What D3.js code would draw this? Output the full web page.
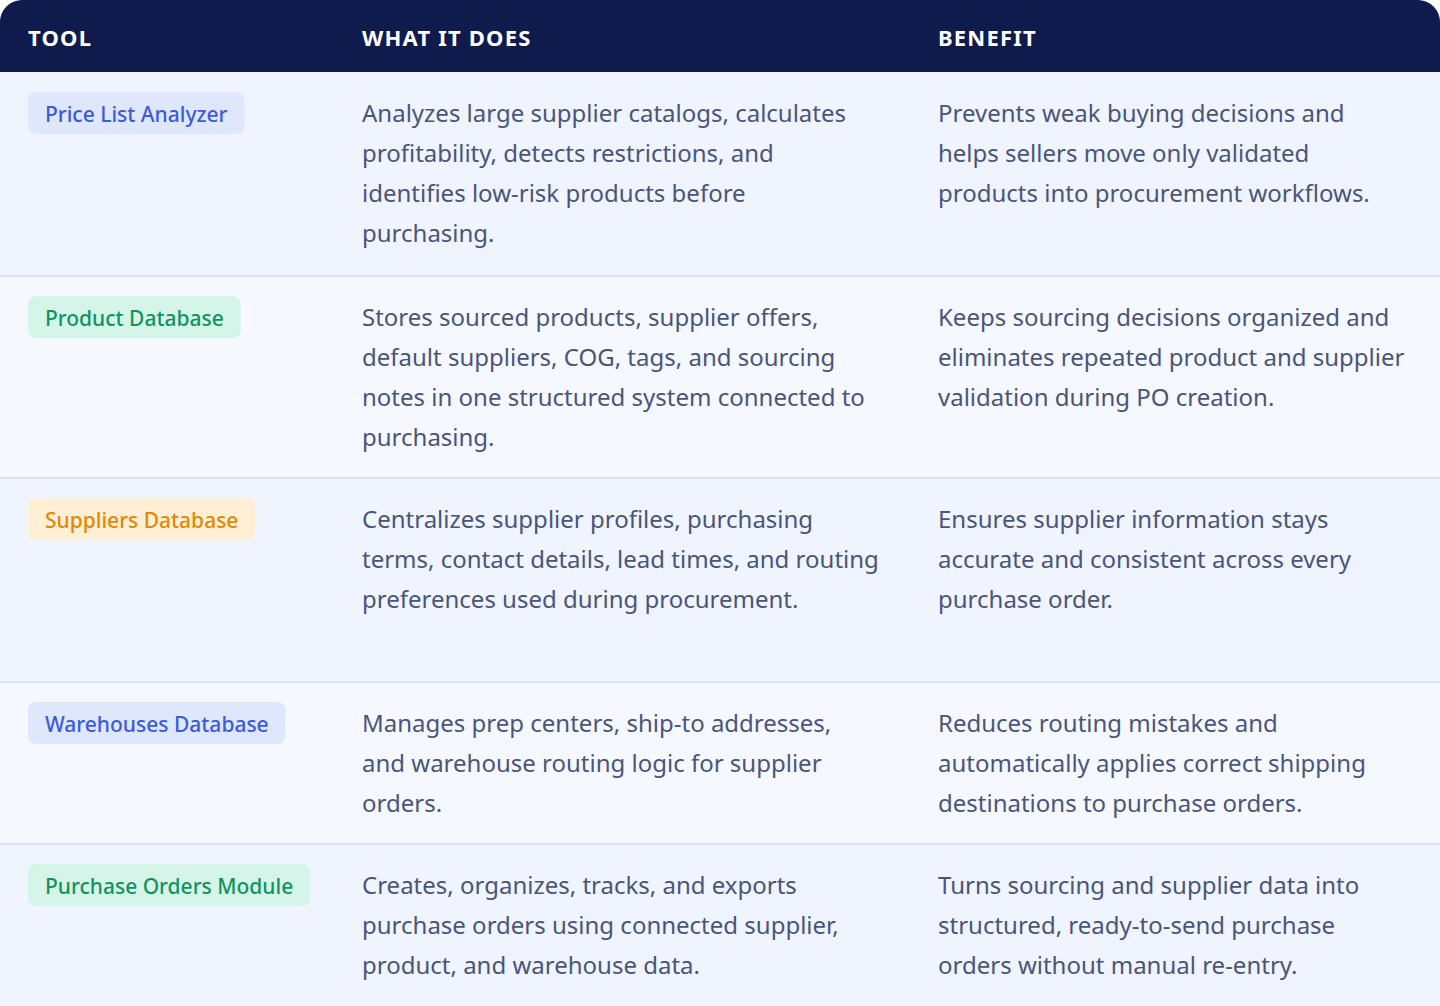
<!DOCTYPE html><html><head><meta charset="utf-8">
<script src="https://cdn.jsdelivr.net/npm/d3@7"></script>
<style>body{margin:0;background:#fff}svg{display:block}</style></head><body>
<svg id="c" width="1440" height="1006"></svg>
<script>
const headers=["TOOL","WHAT IT DOES","BENEFIT"];
const tools=["Price List Analyzer","Product Database","Suppliers Database","Warehouses Database","Purchase Orders Module"];
const pillFill=["#dfe7fd","#d6f5e9","#ffefd5","#dfe7fd","#d6f5e9"];
const pillText=["#3b5bdb","#0f9460","#e08a00","#3b5bdb","#0f9460"];
const whatLines=[
["Analyzes large supplier catalogs, calculates","profitability, detects restrictions, and","identifies low-risk products before","purchasing."],
["Stores sourced products, supplier offers,","default suppliers, COG, tags, and sourcing","notes in one structured system connected to","purchasing."],
["Centralizes supplier profiles, purchasing","terms, contact details, lead times, and routing","preferences used during procurement."],
["Manages prep centers, ship-to addresses,","and warehouse routing logic for supplier","orders."],
["Creates, organizes, tracks, and exports","purchase orders using connected supplier,","product, and warehouse data."]];
const benefitLines=[
["Prevents weak buying decisions and","helps sellers move only validated","products into procurement workflows."],
["Keeps sourcing decisions organized and","eliminates repeated product and supplier","validation during PO creation."],
["Ensures supplier information stays","accurate and consistent across every","purchase order."],
["Reduces routing mistakes and","automatically applies correct shipping","destinations to purchase orders."],
["Turns sourcing and supplier data into","structured, ready-to-send purchase","orders without manual re-entry."]];
const rowBounds=[72,276,478,682,844,1006];
const svg=d3.select("#c"),F="'Noto Sans', 'Open Sans', sans-serif";
const colX=[28,362,938];
// card clip
svg.append("clipPath").attr("id","cl").append("rect").attr("width",1440).attr("height",1040).attr("rx",22);
const g=svg.append("g").attr("clip-path","url(#cl)");
g.append("rect").attr("width",1440).attr("height",72).attr("fill","#0f1b4c");
headers.forEach((h,i)=>g.append("text").attr("x",colX[i]).attr("y",46).text(h)
 .attr("font-family",F).attr("font-size",22).attr("font-weight",700).attr("fill","#fff").attr("letter-spacing",1.2));
tools.forEach((t,i)=>{
 const y0=rowBounds[i],y1=rowBounds[i+1];
 g.append("rect").attr("y",y0).attr("width",1440).attr("height",y1-y0).attr("fill",i%2?"#f6f8ff":"#eff4ff");
 if(i>0)g.append("rect").attr("y",y0-1).attr("width",1440).attr("height",2).attr("fill","#d9e1f7");
 const tx=g.append("text").attr("x",colX[0]+17).attr("y",y0+50).text(t).attr("font-family",F)
  .attr("font-size",21).attr("font-weight",500).attr("fill",pillText[i]);
 const w=tx.node().getComputedTextLength();
 g.insert("rect","text:last-child").attr("x",colX[0]).attr("y",y0+20).attr("width",w+34).attr("height",42).attr("rx",8).attr("fill",pillFill[i]);
 [whatLines[i],benefitLines[i]].forEach((ls,k)=>ls.forEach((l,j)=>g.append("text").attr("x",colX[k+1]).attr("y",y0+50+j*40)
  .text(l).attr("font-family",F).attr("font-size",24).attr("fill","#4a5578")));
});
</script></body></html>
